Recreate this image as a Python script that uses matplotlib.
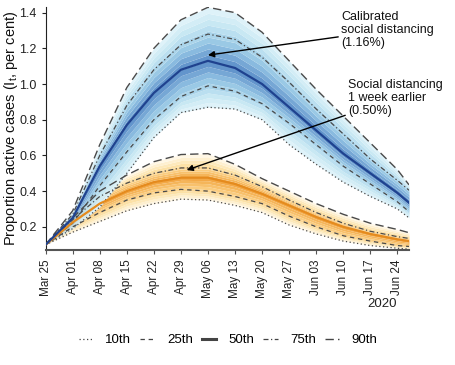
import numpy as np
import matplotlib
matplotlib.use("Agg")
import matplotlib.pyplot as plt
import matplotlib.dates as mdates
import matplotlib.ticker as mticker
from matplotlib.colors import LinearSegmentedColormap
from matplotlib.lines import Line2D

plt.rcParams['font.family'] = ['Liberation Sans', 'DejaVu Sans']
plt.rcParams['mathtext.default'] = 'regular'

# ---- data ----
days = [0, 7, 14, 21, 28, 35, 42, 49, 56, 63, 70, 77, 84, 91, 94]
start_date = '2020-03-25'

blue_p10 = [0.10, 0.19, 0.31, 0.50, 0.70, 0.84, 0.87, 0.86, 0.80, 0.66, 0.55, 0.45, 0.37, 0.30, 0.25]
blue_p25 = [0.10, 0.22, 0.43, 0.62, 0.80, 0.93, 0.99, 0.96, 0.89, 0.78, 0.66, 0.54, 0.44, 0.34, 0.285]
blue_p50 = [0.10, 0.25, 0.54, 0.77, 0.95, 1.08, 1.13, 1.09, 1.00, 0.87, 0.74, 0.61, 0.50, 0.39, 0.335]
blue_p75 = [0.10, 0.27, 0.60, 0.88, 1.08, 1.22, 1.28, 1.25, 1.15, 1.01, 0.86, 0.72, 0.58, 0.46, 0.405]
blue_p90 = [0.10, 0.29, 0.66, 0.98, 1.20, 1.36, 1.43, 1.40, 1.29, 1.13, 0.97, 0.82, 0.67, 0.52, 0.435]

orange_p10 = [0.10, 0.17, 0.23, 0.29, 0.33, 0.355, 0.35, 0.32, 0.28, 0.21, 0.16, 0.12, 0.095, 0.08, 0.075]
orange_p25 = [0.10, 0.20, 0.28, 0.35, 0.39, 0.41, 0.40, 0.37, 0.33, 0.26, 0.20, 0.15, 0.12, 0.095, 0.09]
orange_p50 = [0.10, 0.225, 0.33, 0.40, 0.45, 0.475, 0.475, 0.44, 0.385, 0.32, 0.255, 0.20, 0.16, 0.13, 0.12]
orange_p75 = [0.10, 0.24, 0.37, 0.445, 0.50, 0.53, 0.53, 0.49, 0.425, 0.35, 0.28, 0.22, 0.175, 0.145, 0.135]
orange_p90 = [0.10, 0.25, 0.40, 0.49, 0.565, 0.605, 0.61, 0.55, 0.47, 0.40, 0.33, 0.27, 0.22, 0.185, 0.167]

legend_labels = ['10th', '25th', '50th', '75th', '90th']
label_blue = 'Calibrated\nsocial distancing\n(1.16%)'
label_orange = 'Social distancing\n1 week earlier\n(0.50%)'
arrow_blue_date, arrow_blue_val = '2020-05-06', 1.162
arrow_orange_date, arrow_orange_val = '2020-04-30', 0.518

dates = np.datetime64(start_date) + np.array(days).astype('timedelta64[D]')
x = mdates.date2num(dates)

fig = plt.figure(figsize=(4.56, 3.65), dpi=100)
ax = fig.add_axes([0.100, 0.315, 0.797, 0.665])

styles = {
    '10th': dict(ls=(0, (1, 2)), lw=0.9),
    '25th': dict(ls=(0, (3.5, 3)), lw=0.9),
    '50th': dict(ls='-', lw=2.2),
    '75th': dict(ls=(0, (4, 2, 1, 2)), lw=0.9),
    '90th': dict(ls=(0, (6, 3)), lw=1.0),
}
line_col = '#4a4a4a'


def draw_group(qs, cmap, median_col, nsteps=19):
    q = [np.asarray(a, float) for a in qs]
    pos = np.array([-1.0, -0.5, 0.0, 0.5, 1.0])
    steps = np.linspace(-1, 1, nsteps)

    def curve(s):
        i = np.searchsorted(pos, s, side='right') - 1
        i = min(max(i, 0), 3)
        f = (s - pos[i]) / (pos[i + 1] - pos[i])
        return q[i] + f * (q[i + 1] - q[i])

    for a, b in zip(steps[:-1], steps[1:]):
        m = 0.5 * (a + b)
        ax.fill_between(x, curve(a), curve(b), color=cmap(1 - abs(m)), lw=0, zorder=1)
    for arr, key in zip([q[0], q[1], q[3], q[4]], ['10th', '25th', '75th', '90th']):
        ax.plot(x, arr, color=line_col, zorder=3, **styles[key])
    ax.plot(x, q[2], color=median_col, lw=1.6, zorder=4)


cmap_b = LinearSegmentedColormap.from_list('b', ['#e4f5fa', '#c2e5f2', '#92c3e3', '#5a8cc8'])
cmap_o = LinearSegmentedColormap.from_list('o', ['#fffaf0', '#fde6b0', '#f9c775', '#f2a33e'])

draw_group([orange_p10, orange_p25, orange_p50, orange_p75, orange_p90], cmap_o, '#e58b1e')
draw_group([blue_p10, blue_p25, blue_p50, blue_p75, blue_p90], cmap_b, '#1f428f')

ax.set_xlim(x[0], x[-1])
ax.set_ylim(0.07, 1.43)
ax.set_yticks([0.2, 0.4, 0.6, 0.8, 1.0, 1.2, 1.4])
ax.yaxis.set_major_formatter(mticker.FormatStrFormatter('%.1f'))

ticks = mdates.date2num(np.datetime64(start_date) + np.arange(0, 92, 7).astype('timedelta64[D]'))
ax.set_xticks(ticks)
ax.xaxis.set_major_formatter(mdates.DateFormatter('%b %d'))
plt.setp(ax.get_xticklabels(), rotation=90, ha='center', va='top')

for s in ['top', 'right']:
    ax.spines[s].set_visible(False)
ax.spines['left'].set_color('#222222')
ax.spines['bottom'].set_color('#555555')
ax.spines['bottom'].set_linewidth(1.5)
ax.tick_params(axis='y', labelsize=9, colors='#222222', length=3, width=0.8)
ax.tick_params(axis='x', labelsize=8.5, colors='#555555', labelcolor='#222222', length=3, width=0.8)

fig.text(11 / 456, 1 - 128 / 365, 'Proportion active cases (I$_t$, per cent)', rotation=90,
         ha='center', va='center', fontsize=10.5, color='#111111')

fig.text(382 / 456, 1 - 304 / 365, '2020', ha='center', va='center', fontsize=9.5, color='#222222')

arrowprops = dict(arrowstyle='-|>', color='black', lw=1.0, mutation_scale=9, shrinkA=0, shrinkB=0)
ax.annotate(label_blue, xy=(mdates.date2num(np.datetime64(arrow_blue_date)), arrow_blue_val),
            xytext=(341, 335), textcoords='figure pixels', xycoords='data',
            fontsize=9, ha='left', va='center', linespacing=1.15, color='#111111',
            arrowprops=arrowprops, zorder=6)
ax.annotate(label_orange, xy=(mdates.date2num(np.datetime64(arrow_orange_date)) + 0.5, arrow_orange_val),
            xytext=(348, 267), textcoords='figure pixels', xycoords='data',
            fontsize=9, ha='left', va='center', linespacing=1.15, color='#111111',
            arrowprops=arrowprops, zorder=6)

handles = [Line2D([], [], color='#444444', **styles[k]) for k in legend_labels]
fig.legend(handles, legend_labels, loc='center', bbox_to_anchor=(0.5, 1 - 340 / 365), ncol=5,
           frameon=False, fontsize=9.5, handlelength=1.1, handletextpad=0.9, columnspacing=0.7)

fig.savefig('out.png', dpi=100)
